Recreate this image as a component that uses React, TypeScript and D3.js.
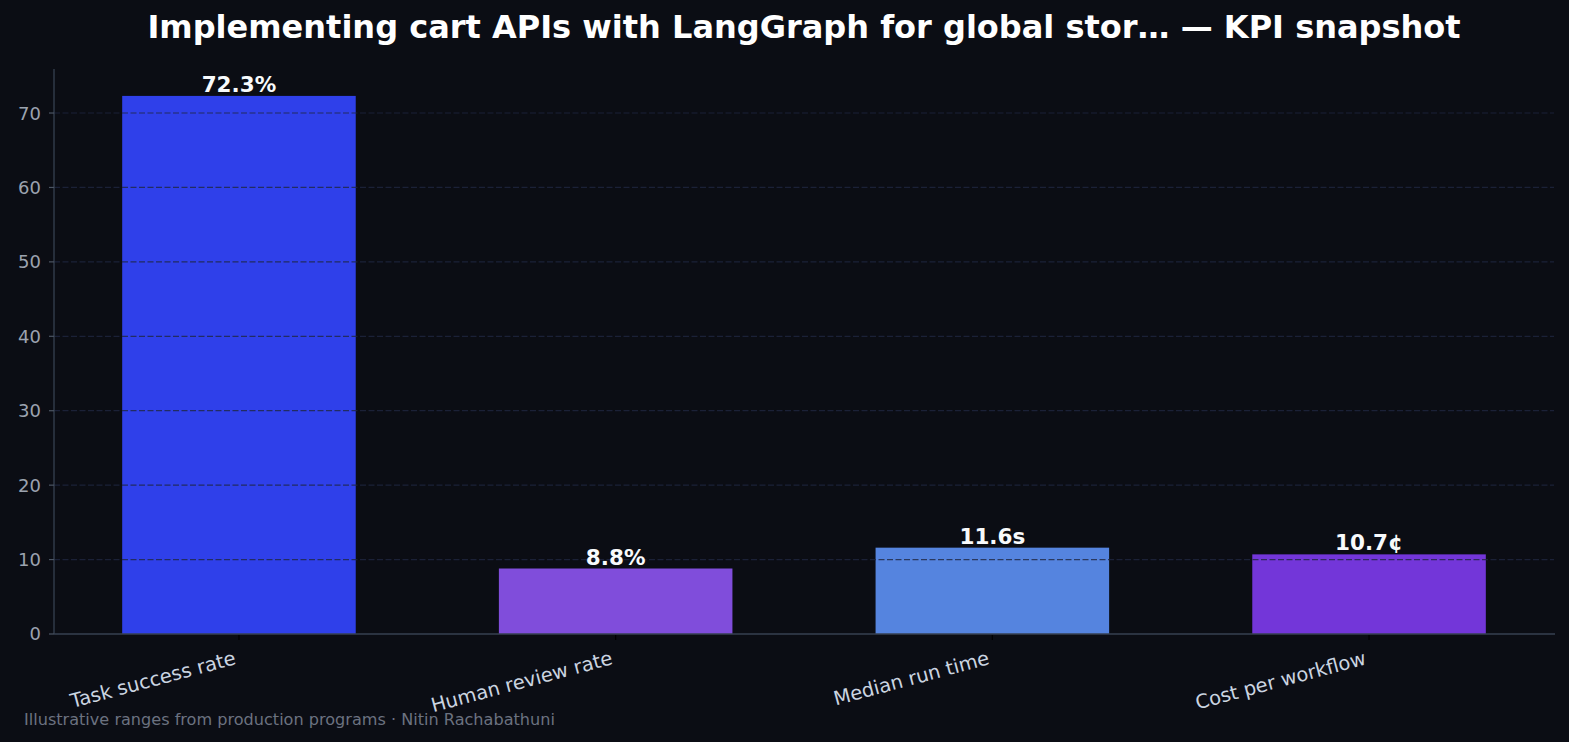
import React from 'react';
import { scaleLinear, scaleBand } from 'd3';

// chart data
const categories = ['Task success rate', 'Human review rate', 'Median run time', 'Cost per workflow'];
const values = [72.3, 8.8, 11.6, 10.7];
const valueLabels = ['72.3%', '8.8%', '11.6s', '10.7¢'];
const barColors = ['#2f40ea', '#804ddb', '#5584df', '#7336d9'];
const yTicks = [0, 10, 20, 30, 40, 50, 60, 70];

const title = 'Implementing cart APIs with LangGraph for global stor… — KPI snapshot';
const footer = 'Illustrative ranges from production programs · Nitin Rachabathuni';

const W = 1569;
const H = 742;
const font = '"DejaVu Sans", sans-serif';

export default function App() {
    const margin = { top: 69, right: 15, bottom: 108, left: 54 };
    const innerW = W - margin.left - margin.right;
    const innerH = H - margin.top - margin.bottom;

    const maxV = Math.max(...values);
    const yScale = scaleLinear()
        .domain([0, maxV * 1.05])
        .range([innerH, 0]);

    // matplotlib-style: bar width 0.62 of unit spacing, 5% margins
    const barW = 0.62;
    const lo = -barW / 2, hi = categories.length - 1 + barW / 2;
    const pad = (hi - lo) * 0.05;
    const xScale = scaleLinear()
        .domain([lo - pad, hi + pad])
        .range([0, innerW]);
    const band = scaleBand().domain(categories).range([0, categories.length]);
    const xPos = (c: string) => xScale(band(c) as number);
    const bw = xScale(barW) - xScale(0);

    return (
        <svg width={W} height={H} style={{ display: 'block', position: 'absolute', left: 0, top: 0 }}>
            <rect x={0} y={0} width={W} height={H} fill="#0b0d14" />
            <text x={804} y={38} textAnchor="middle" fill="#ffffff"
                  fontFamily={font} fontSize={32} fontWeight="bold">{title}</text>
            <g transform={`translate(${margin.left}, ${margin.top})`}>
                {/* bars */}
                {categories.map((c, i) => (
                    <rect key={c} x={xPos(c) - bw / 2} y={yScale(values[i])}
                          width={bw} height={innerH - yScale(values[i])} fill={barColors[i]} />
                ))}
                {/* grid drawn over bars */}
                {yTicks.filter(t => t > 0).map(t => (
                    <line key={t} x1={0} x2={innerW} y1={yScale(t)} y2={yScale(t)}
                          stroke="#1f2740" strokeOpacity={0.8} strokeWidth={1.2} strokeDasharray="6,2.5" />
                ))}
                {/* value labels */}
                {categories.map((c, i) => (
                    <text key={'v' + c} x={xPos(c)} y={yScale(values[i]) - 4} textAnchor="middle"
                          fill="#f8fafc" fontFamily={font} fontSize={21.5} fontWeight="bold">{valueLabels[i]}</text>
                ))}
                {/* y axis */}
                <line x1={0} x2={0} y1={0} y2={innerH} stroke="#374151" strokeWidth={1.3} />
                {yTicks.map(t => (
                    <g key={'y' + t} transform={`translate(0, ${yScale(t)})`}>
                        <line x1={-5} x2={0} stroke="#4b5563" strokeWidth={1.2} />
                        <text x={-13} dy="0.36em" textAnchor="end" fill="#9ca3af"
                              fontFamily={font} fontSize={18}>{t}</text>
                    </g>
                ))}
                {/* x axis */}
                <line x1={0} x2={innerW + 1} y1={innerH} y2={innerH} stroke="#374151" strokeWidth={1.5} />
                {categories.map(c => (
                    <g key={'x' + c} transform={`translate(${xPos(c)}, ${innerH})`}>
                        <line y1={1} y2={6} stroke="#000000" strokeWidth={1.2} />
                        <text transform="translate(-2, 30) rotate(-15)" textAnchor="end" fill="#cbd5e1"
                              fontFamily={font} fontSize={19.5}>{c}</text>
                    </g>
                ))}
            </g>
            <text x={24} y={725} fill="#6b7280" fontFamily={font} fontSize={16.1}>{footer}</text>
        </svg>
    );
}
